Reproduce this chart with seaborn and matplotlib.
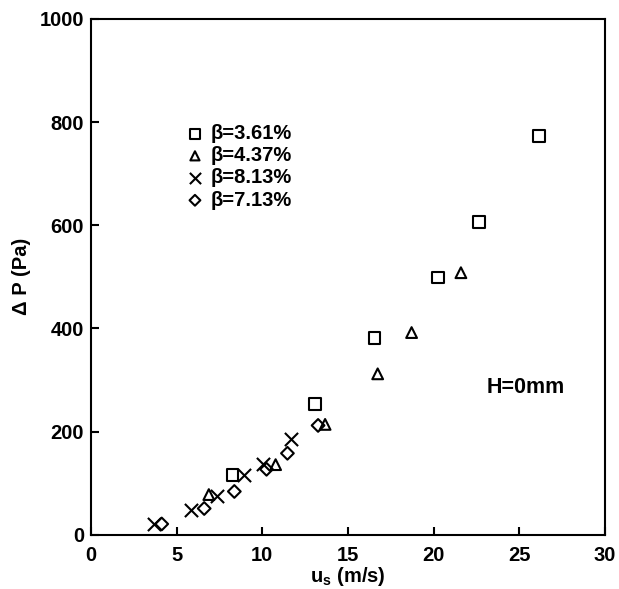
import pandas as pd
import matplotlib.pyplot as plt
import seaborn as sns

# data
us_361 = [8.26, 13.07, 16.56, 20.25, 22.66, 26.15]
dp_361 = [116, 254, 381, 499, 606, 773]
us_437 = [6.88, 10.78, 13.67, 16.74, 18.72, 21.6]
dp_437 = [78, 136, 214, 312, 392, 508]
us_813 = [3.67, 5.85, 7.34, 8.94, 10.05, 11.65]
dp_813 = [20, 49, 76, 116, 137, 185]
us_713 = [4.13, 6.61, 8.37, 10.25, 11.47, 13.26]
dp_713 = [21, 51, 84, 127, 158, 212]

labels = ['β=3.61%', 'β=4.37%', 'β=8.13%', 'β=7.13%']

sns.set_theme(style="white")
plt.rcParams['font.family'] = ['Liberation Sans', 'DejaVu Sans']
plt.rcParams['font.weight'] = 'bold'
plt.rcParams['mathtext.fontset'] = 'custom'
plt.rcParams['mathtext.rm'] = 'Liberation Sans:bold'
plt.rcParams['mathtext.bf'] = 'Liberation Sans:bold'
for k in ['text.color', 'axes.labelcolor', 'xtick.color', 'ytick.color']:
    plt.rcParams[k] = 'black'

fig = plt.figure(figsize=(6.19, 5.89), dpi=100)
ax = fig.add_axes([0.147, 0.092, 0.830, 0.876])

sns.scatterplot(x=us_361, y=dp_361, marker='s', s=70, facecolors='none',
                edgecolor='black', linewidth=1.5, label=labels[0], ax=ax)
sns.scatterplot(x=us_437, y=dp_437, marker='^', s=60, facecolors='none',
                edgecolor='black', linewidth=1.5, label=labels[1], ax=ax)
sns.scatterplot(x=us_813, y=dp_813, marker='x', s=90, color='black',
                linewidth=1.5, label=labels[2], ax=ax)
sns.scatterplot(x=us_713, y=dp_713, marker='D', s=42, facecolors='none',
                edgecolor='black', linewidth=1.5, label=labels[3], ax=ax)

ax.set_xlim(0, 30)
ax.set_ylim(0, 1000)
ax.set_xticks([0, 5, 10, 15, 20, 25, 30])
ax.set_yticks([0, 200, 400, 600, 800, 1000])
ax.tick_params(axis='both', direction='in', length=6, width=1.5,
               labelsize=14.5, bottom=True, left=True, pad=5)
ax.tick_params(axis='x', pad=8)
for lab in ax.get_xticklabels() + ax.get_yticklabels():
    lab.set_fontweight('bold')
for sp in ax.spines.values():
    sp.set_color('black')
    sp.set_linewidth(1.5)

ax.set_xlabel(r'u$_\mathregular{s}$ (m/s)', fontsize=14.5, fontweight='bold', labelpad=0)
ax.set_ylabel('Δ P (Pa)', fontsize=14.5, fontweight='bold')
ax.yaxis.set_label_coords(-0.117, 0.5)

ax.text(0.77, 0.285, 'H=0mm', transform=ax.transAxes, fontsize=15.5,
        fontweight='bold', ha='left', va='center')

leg = ax.legend(loc='upper left', bbox_to_anchor=(0.171, 0.812), frameon=False,
                handletextpad=0.4, handlelength=0.8, labelspacing=0.16,
                markerscale=0.85, borderaxespad=0.0,
                prop={'size': 14.5, 'weight': 'bold'})

fig.savefig('out.png', dpi=100)
